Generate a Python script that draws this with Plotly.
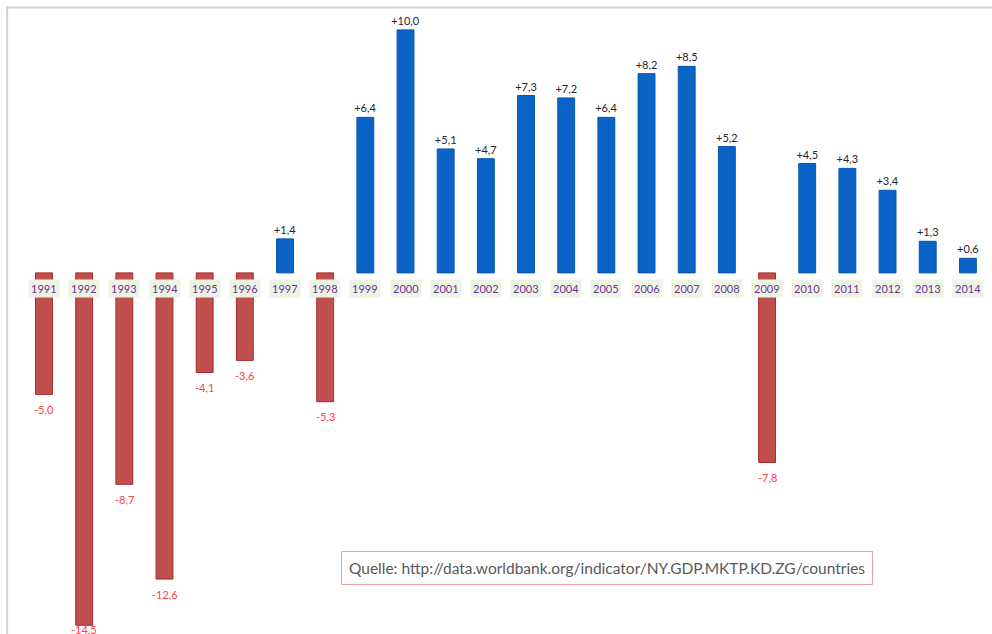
import plotly.graph_objects as go

years = ["1991", "1992", "1993", "1994", "1995", "1996", "1997", "1998", "1999", "2000",
         "2001", "2002", "2003", "2004", "2005", "2006", "2007", "2008", "2009", "2010",
         "2011", "2012", "2013", "2014"]
growth = [-5.0, -14.5, -8.7, -12.6, -4.1, -3.6, 1.4, -5.3, 6.4, 10.0,
          5.1, 4.7, 7.3, 7.2, 6.4, 8.2, 8.5, 5.2, -7.8, 4.5,
          4.3, 3.4, 1.3, 0.6]
source_text = "Quelle: http://data.worldbank.org/indicator/NY.GDP.MKTP.KD.ZG/countries"

Y_MIN, Y_MAX = -14.86, 11.23
POS_FILL, POS_LINE = "#0A64C8", "#0656A8"
NEG_FILL, NEG_LINE = "#C0504D", "#A82A2A"
POS_TXT, NEG_TXT = "#262626", "#FF4040"

labels = [("%+.1f" % v).replace(".", ",") for v in growth]
fills = [POS_FILL if v >= 0 else NEG_FILL for v in growth]
lines = [POS_LINE if v >= 0 else NEG_LINE for v in growth]
pos_text = [lab if v >= 0 else "" for lab, v in zip(labels, growth)]

fig = go.Figure()
fig.add_trace(go.Bar(
    x=years, y=growth, width=0.42,
    marker=dict(color=fills, line=dict(color=lines, width=1)),
    text=pos_text, textposition="outside", constraintext="none",
    textfont=dict(family="Lato", size=11, color=POS_TXT),
    cliponaxis=False, hoverinfo="x+y",
))

annotations = []
for i, (yr, v, lab) in enumerate(zip(years, growth, labels)):
    annotations.append(dict(
        x=i, y=0, xref="x", yref="y", text=yr, showarrow=False,
        yshift=-16, font=dict(family="Lato", size=11, color="#7030A0"),
        bgcolor="#EEF4E2", borderpad=2,
    ))
    if v < 0:
        # label sits below the bar end, kept inside the chart edge like Excel
        annotations.append(dict(
            x=i, y=max(v - 0.62, Y_MIN + 0.18), xref="x", yref="y", text=lab,
            showarrow=False, yanchor="middle",
            font=dict(family="Lato", size=11, color=NEG_TXT),
        ))
annotations.append(dict(
    x=0.612, y=1 - 568 / 634, xref="paper", yref="paper", text=source_text,
    showarrow=False, xanchor="center", yanchor="middle",
    font=dict(family="Lato", size=15.5, color="#595959"),
    bgcolor="white", bordercolor="#F4A0A0", borderwidth=1, borderpad=7,
))

fig.update_layout(
    width=992, height=634,
    margin=dict(l=0, r=0, t=0, b=0),
    paper_bgcolor="white", plot_bgcolor="white",
    showlegend=False,
    annotations=annotations,
    xaxis=dict(type="category", range=[-1.095, 23.6], showticklabels=False,
               showgrid=False, zeroline=False, showline=False, ticks=""),
    yaxis=dict(range=[Y_MIN, Y_MAX], showticklabels=False, showgrid=False,
               zeroline=False, showline=False, ticks=""),
    shapes=[
        dict(type="line", xref="paper", yref="paper", x0=0.006, x1=1.0,
             y0=1 - 7.5 / 634, y1=1 - 7.5 / 634, line=dict(color="#D4D4D4", width=2)),
        dict(type="line", xref="paper", yref="paper", x0=0.0072, x1=0.0072,
             y0=0, y1=1 - 6.5 / 634, line=dict(color="#D4D4D4", width=2)),
    ],
)

fig.write_html("out.html", config={"displayModeBar": False},
               post_script="document.body.style.margin='0';document.body.style.overflow='hidden';")
